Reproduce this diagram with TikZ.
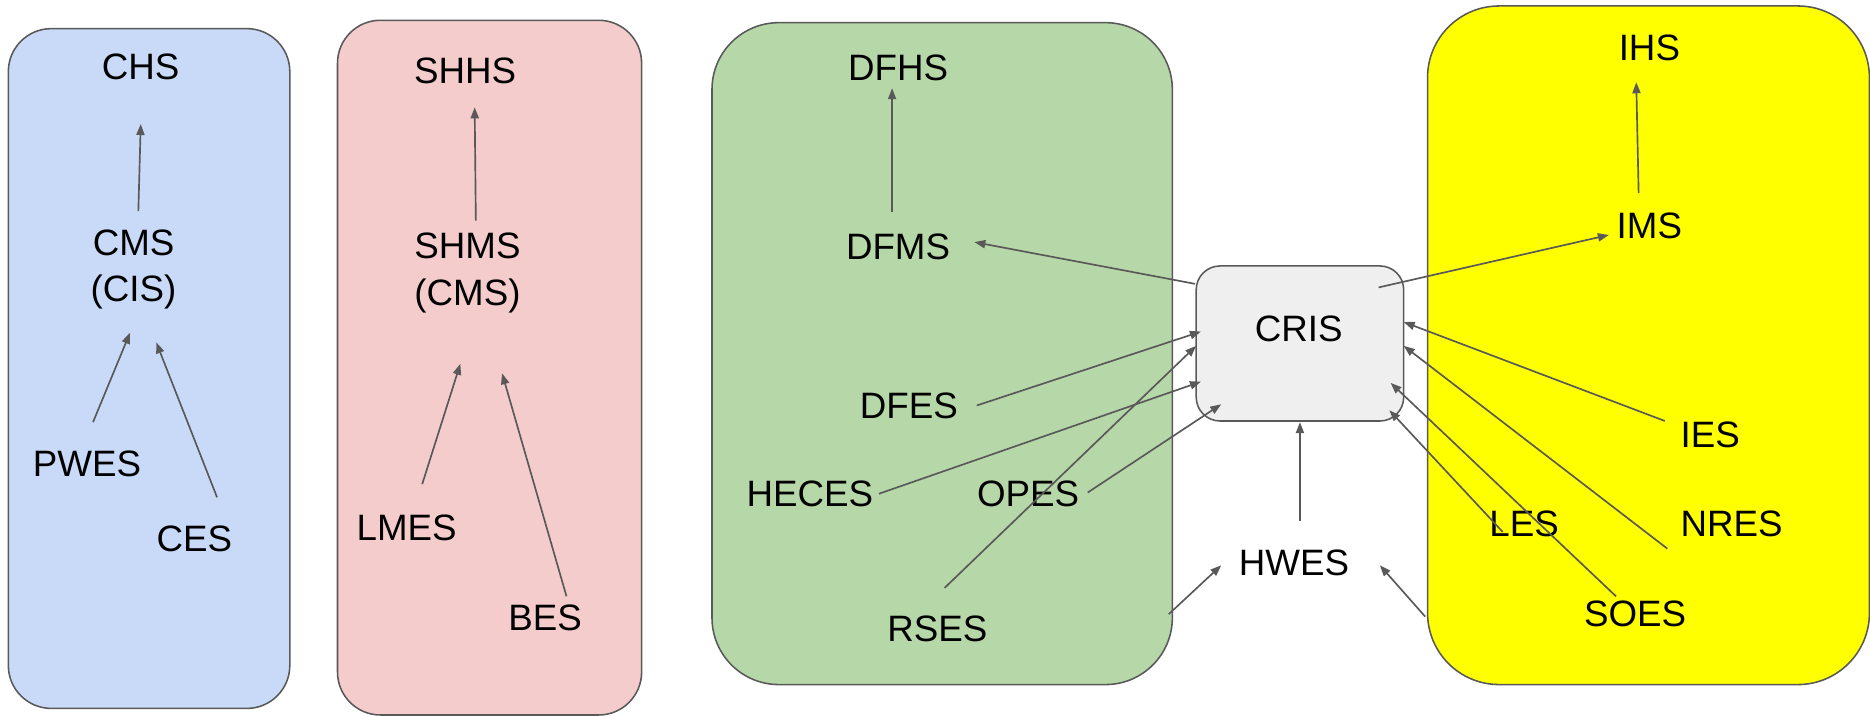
\documentclass[tikz,border=0pt]{standalone}
\usepackage{fontspec}
\setmainfont{Liberation Sans}
\usetikzlibrary{arrows.meta}
\definecolor{bblue}{HTML}{C9DAF8}
\definecolor{bpink}{HTML}{F4CCCC}
\definecolor{bgreen}{HTML}{B6D7A8}
\definecolor{byellow}{HTML}{FFFF00}
\definecolor{bgray}{HTML}{EFEFEF}
\definecolor{edge}{HTML}{595959}
\tikzset{
  grp/.style={draw=edge, line width=0.65pt},
  lbl/.style={inner sep=0pt, align=center, font=\fontsize{15.4}{19.5}\selectfont},
  conn/.style={draw=edge, line width=0.7pt, -{Triangle[length=4.6pt,width=3.4pt]}},
}
\begin{document}
\begin{tikzpicture}[x=0.5pt,y=-0.5pt]
\useasboundingbox (0,0) rectangle (1568,600);
% group boxes
\draw[grp, fill=bblue, rounded corners=18pt] (7,24) rectangle (243,594);
\draw[grp, fill=bpink, rounded corners=18pt] (283,17) rectangle (538,599.5);
\draw[grp, fill=bgreen, rounded corners=28pt] (597,19) rectangle (983,574);
\draw[grp, fill=byellow, rounded corners=30pt] (1197,5) rectangle (1567.5,574);
\node[grp, fill=bgray, rounded corners=10pt, minimum width=87pt, minimum height=65pt, inner sep=0pt] (cris) at (1090,288) {};
\node[lbl] (crist) at (1089,276) {CRIS};
% labels
\node[lbl] (chs) at (118,56) {CHS};
\node[lbl] (cms) at (112,226) {CMS\\(CIS)};
\node[lbl] (pwes) at (73,389) {PWES};
\node[lbl] (ces) at (163,452) {CES};
\node[lbl] (shhs) at (390,59) {SHHS};
\node[lbl] (shms) at (392,229) {SHMS\\(CMS)};
\node[lbl] (lmes) at (341,443) {LMES};
\node[lbl] (bes) at (457,518) {BES};
\node[lbl] (dfhs) at (753,57) {DFHS};
\node[lbl] (dfms) at (753,207) {DFMS};
\node[lbl] (dfes) at (762,340) {DFES};
\node[lbl] (heces) at (679,414) {HECES};
\node[lbl] (opes) at (862,414) {OPES};
\node[lbl] (rses) at (786,527) {RSES};
\node[lbl] (hwes) at (1085,472) {HWES};
\node[lbl] (ihs) at (1383,40) {IHS};
\node[lbl] (ims) at (1383,189) {IMS};
\node[lbl] (ies) at (1434,365) {IES};
\node[lbl] (les) at (1278,439) {LES};
\node[lbl] (nres) at (1452,439) {NRES};
\node[lbl] (soes) at (1371,515) {SOES};
% connector end points
\coordinate (c1a) at (116,177); \coordinate (c1b) at (118,104);
\coordinate (c2a) at (78,354);  \coordinate (c2b) at (109,279);
\coordinate (c3a) at (182,417); \coordinate (c3b) at (131,287);
\coordinate (c4a) at (399,185); \coordinate (c4b) at (398,90);
\coordinate (c5a) at (354,406); \coordinate (c5b) at (386,305);
\coordinate (c6a) at (475,500); \coordinate (c6b) at (421,313);
\coordinate (c7a) at (748,178); \coordinate (c7b) at (748,74);
\coordinate (c8a) at (1002,238); \coordinate (c8b) at (817,203);
\coordinate (c9a) at (819,340); \coordinate (c9b) at (1007,278);
\coordinate (c10a) at (737,414); \coordinate (c10b) at (1007,320);
\coordinate (c11a) at (792,493); \coordinate (c11b) at (1003,290);
\coordinate (c12a) at (912,413); \coordinate (c12b) at (1024,339);
\coordinate (c13a) at (1090,437); \coordinate (c13b) at (1090,354);
\coordinate (c14a) at (980,515); \coordinate (c14b) at (1024,474);
\coordinate (c15a) at (1195,517); \coordinate (c15b) at (1157,474);
\coordinate (c16a) at (1156,241); \coordinate (c16b) at (1349,197);
\coordinate (c17a) at (1374,162); \coordinate (c17b) at (1372,69);
\coordinate (c18a) at (1396,353); \coordinate (c18b) at (1177,270);
\coordinate (c19a) at (1398,460); \coordinate (c19b) at (1177,290);
\coordinate (c20a) at (1260,446); \coordinate (c20b) at (1165,344);
\coordinate (c21a) at (1355,500); \coordinate (c21b) at (1166,321);
% connectors
\foreach \i in {1,...,21} {\draw[conn] (c\i a) -- (c\i b);}
\end{tikzpicture}
\end{document}
